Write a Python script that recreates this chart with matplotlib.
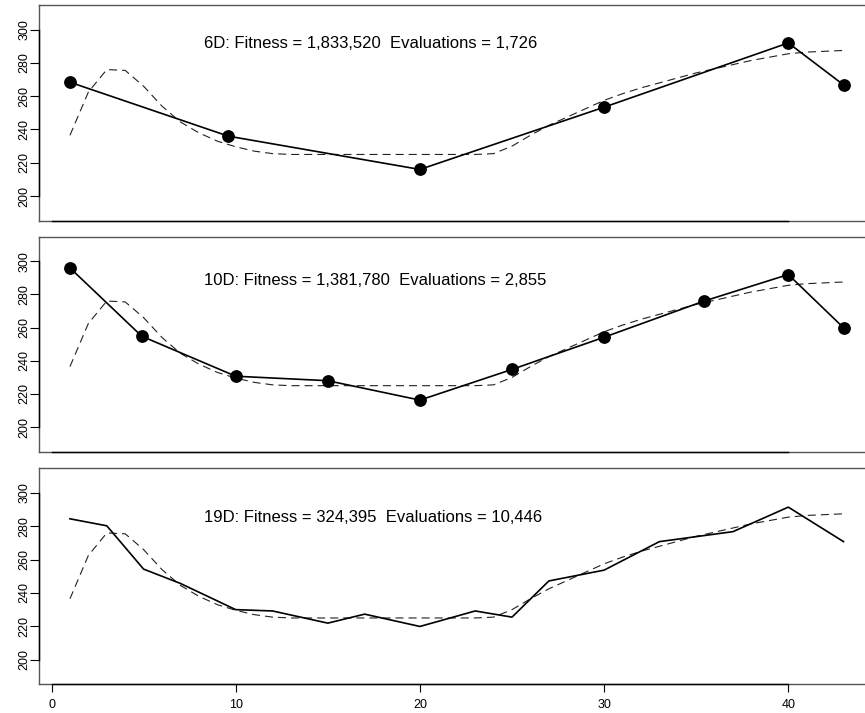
import matplotlib
matplotlib.use("Agg")
import matplotlib.pyplot as plt

plt.rcParams['font.family'] = ['Liberation Sans', 'DejaVu Sans']
plt.rcParams['lines.scale_dashes'] = False

# Target (dashed) curve, same in all panels
target_x = list(range(1, 44))
target_y = [236.5, 262.5, 276.0, 275.5, 266.0, 254.0, 244.5, 238.0, 233.0, 229.6,
            227.0, 225.5, 225.0, 225.0, 225.0, 225.0, 225.0, 225.0, 225.0, 225.0,
            225.0, 225.0, 225.0, 225.5, 230.0, 236.5, 242.5, 247.5, 252.5, 257.5,
            261.5, 265.0, 268.0, 271.0, 274.0, 276.5, 279.0, 281.5, 283.5, 285.5,
            286.5, 287.0, 287.5]

# 6D fit
d6_x = [1, 9.6, 20, 30, 40, 43]
d6_y = [268.4, 236.0, 216.0, 253.4, 292.0, 266.8]

# 10D fit
d10_x = [1, 4.9, 10, 15, 20, 25, 30, 35.4, 40, 43]
d10_y = [296.0, 254.8, 230.7, 228.0, 216.3, 234.8, 254.2, 275.9, 292.0, 259.9]

# 19D fit
d19_x = [1, 3, 5, 7, 10, 12, 15, 17, 20, 23, 25, 27, 30, 33, 37, 40, 43]
d19_y = [284.5, 280.3, 254.3, 245.7, 230.0, 229.2, 221.9, 227.3, 219.9, 229.2,
         225.5, 247.2, 253.7, 270.8, 276.8, 291.5, 270.8]

labels = ["6D: Fitness = 1,833,520  Evaluations = 1,726",
          "10D: Fitness = 1,381,780  Evaluations = 2,855",
          "19D: Fitness = 324,395  Evaluations = 10,446"]
label_y = [291.5, 288.5, 285.5]

yticks = [200, 220, 240, 260, 280, 300]
xticks = [0, 10, 20, 30, 40]

W, H = 865, 713
fig = plt.figure(figsize=(W / 100, H / 100), dpi=100)

panels_px = [(5, 220.7), (236.7, 451.7), (468.3, 684.3)]
left_px, right_px = 39, 874.5

fits = [(d6_x, d6_y, True), (d10_x, d10_y, True), (d19_x, d19_y, False)]

for i, ((top, bot), (fx, fy, markers)) in enumerate(zip(panels_px, fits)):
    ax = fig.add_axes([left_px / W, 1 - bot / H, (right_px - left_px) / W, (bot - top) / H])
    ax.patch.set_visible(False)
    ax.set_xlim(-0.68, 44.68)
    ax.set_ylim(185.2, 314.8)
    ax.plot(target_x, target_y, color='#222222', lw=0.8, linestyle=(0, (5.8, 3.6)))
    if markers:
        ax.plot(fx, fy, color='black', lw=1.2, marker='o', markersize=8.2)
    else:
        ax.plot(fx, fy, color='black', lw=1.2)
    ax.text(8.3, label_y[i], labels[i], ha='left', va='center', fontsize=12.0)

    # box (gray frame; right side lies beyond the canvas)
    box_kw = dict(transform=ax.transAxes, color='#555555', lw=1.0,
                  clip_on=False, zorder=0.5)
    ax.plot([0, 1], [1, 1], **box_kw)
    ax.plot([0, 1], [0, 0], **box_kw)
    ax.plot([0, 0], [0, 1], **box_kw)
    for s in ['top', 'right']:
        ax.spines[s].set_visible(False)
    ax.spines['left'].set_bounds(200, 300)
    ax.spines['bottom'].set_bounds(0, 40)
    ax.spines['left'].set_color('black')
    ax.spines['bottom'].set_color('black')
    ax.spines['left'].set_linewidth(1.0)
    ax.spines['bottom'].set_linewidth(1.0)

    ax.set_yticks(yticks)
    ax.set_yticklabels([str(v) for v in yticks], rotation=90, va='center', fontsize=9)
    ax.tick_params(axis='y', direction='out', length=6.5, width=0.8, pad=-0.5)
    if i == 2:
        ax.set_xticks(xticks)
        ax.set_xticklabels([str(v) for v in xticks], fontsize=9)
        ax.tick_params(axis='x', direction='out', length=5.5, width=0.8, pad=5)
    else:
        ax.set_xticks([])

fig.savefig("out.png", dpi=100)
